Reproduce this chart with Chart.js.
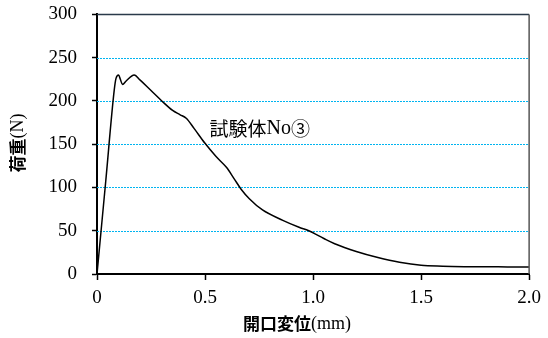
<!DOCTYPE html>
<html><head><meta charset="utf-8">
<script src="https://cdn.jsdelivr.net/npm/chart.js@4/dist/chart.umd.min.js"></script>
<style>html,body{margin:0;padding:0;background:#fff;overflow:hidden}#w{width:548px;height:350px;margin-top:-12px}</style>
</head><body><div id="w"><canvas id="c"></canvas></div>
<script>
const displacement = [0, 0.04, 0.08, 0.088, 0.1, 0.108, 0.118, 0.135, 0.172, 0.2, 0.25, 0.3, 0.35, 0.385, 0.413, 0.45, 0.5, 0.55, 0.6, 0.635, 0.667, 0.705, 0.766, 0.86, 0.935, 0.98, 1.05, 1.1, 1.2, 1.3, 1.4, 1.5, 1.6, 1.7, 1.8, 1.9, 2.0];
const load = [0, 106, 213, 226, 230, 225, 219, 223, 230, 224, 212, 200, 189, 184, 180, 168, 151, 136, 123, 110, 98, 87, 74, 62, 54, 50, 41, 35, 26, 19, 13.5, 10, 9, 8.5, 8.3, 8.2, 8];
const xTicks = [0, 0.5, 1.0, 1.5, 2.0];
const xTickLabels = ['0', '0.5', '1.0', '1.5', '2.0'];
const yTicks = [0, 50, 100, 150, 200, 250, 300];
const seriesLabel = ['試験体', 'No', '③'];
const labelPos = [0.521, 167.8];
const xTitle = ['開口変位', '(mm)'];
const yTitle = ['荷重', '(N)'];

const points = displacement.map((x, i) => ({x, y: load[i]}));
const serif = "'Liberation Serif','Times New Roman',serif";
const gothic = "'Noto Sans CJK JP','Noto Sans CJK SC',sans-serif";
const OFF = 12; // canvas shifted up by this many px

function drawMixed(ctx, parts, x, y, align) {
  let widths = parts.map(p => { ctx.font = p[1]; return ctx.measureText(p[0]).width; });
  let total = widths.reduce((a, b) => a + b, 0);
  let cx = align === 'center' ? x - total / 2 : x;
  ctx.textAlign = 'left';
  ctx.textBaseline = 'middle';
  parts.forEach((p, i) => { ctx.font = p[1]; ctx.fillText(p[0], cx, y); cx += widths[i]; });
}

const deco = {
  id: 'deco',
  beforeDatasetsDraw(chart) {
    const ctx = chart.ctx, a = chart.chartArea, ys = chart.scales.y;
    ctx.save();
    yTicks.forEach(v => {
      if (v === 0) return;
      const py = Math.round(ys.getPixelForValue(v)) + 0.5;
      ctx.beginPath();
      if (v === 300) { ctx.setLineDash([]); ctx.strokeStyle = '#2a3a4a'; ctx.lineWidth = 1.5; }
      else { ctx.setLineDash([2, 1]); ctx.strokeStyle = '#00b4f0'; ctx.lineWidth = 1; }
      ctx.moveTo(a.left, py); ctx.lineTo(a.right, py); ctx.stroke();
    });
    ctx.restore();
  },
  afterDraw(chart) {
    const ctx = chart.ctx, a = chart.chartArea;
    const xs = chart.scales.x, ys = chart.scales.y;
    ctx.save();
    ctx.strokeStyle = '#555';
    ctx.lineWidth = 1.5;
    ctx.beginPath(); ctx.moveTo(a.right, a.top); ctx.lineTo(a.right, a.bottom); ctx.stroke();
    ctx.fillStyle = '#000';
    drawMixed(ctx, [[seriesLabel[0], '19px ' + gothic], [seriesLabel[1], '20px ' + serif], [seriesLabel[2], '19px ' + gothic]],
      xs.getPixelForValue(labelPos[0]), ys.getPixelForValue(labelPos[1]), 'left');
    drawMixed(ctx, [[xTitle[0], 'bold 17px ' + gothic], [xTitle[1], '18px ' + serif]], 297, 324 + OFF, 'center');
    ctx.translate(18, 143 + OFF);
    ctx.rotate(-Math.PI / 2);
    drawMixed(ctx, [[yTitle[0], 'bold 17px ' + gothic], [yTitle[1], '18px ' + serif]], 0, 0, 'center');
    ctx.restore();
  }
};

new Chart(document.getElementById('c'), {
  type: 'scatter',
  data: { datasets: [{
    data: points, showLine: true, borderColor: '#000', borderWidth: 1.5,
    pointRadius: 0, cubicInterpolationMode: 'monotone', fill: false
  }]},
  options: {
    responsive: true, maintainAspectRatio: false, animation: false,
    layout: { padding: { top: 1, right: 17, left: 0, bottom: 0 } },
    plugins: { legend: { display: false }, tooltip: { enabled: false } },
    scales: {
      x: {
        type: 'linear', min: 0, max: 2.0,
        afterBuildTicks: s => { s.ticks = xTicks.map(v => ({value: v})); },
        afterFit: s => { s.height = 64; },
        ticks: { font: { family: serif, size: 19 }, color: '#000', padding: 7, maxRotation: 0,
          callback: (v) => { const i = xTicks.indexOf(v); return i >= 0 ? xTickLabels[i] : ''; } },
        grid: { drawOnChartArea: false, drawTicks: true, tickLength: 6, tickColor: '#000', tickWidth: 1.5 },
        border: { display: true, color: '#000', width: 2 }
      },
      y: {
        type: 'linear', min: 0, max: 300,
        afterBuildTicks: s => { s.ticks = yTicks.map(v => ({value: v})); },
        afterFit: s => { s.width = 97; },
        ticks: { font: { family: serif, size: 19 }, color: '#000', padding: 15 },
        grid: { drawOnChartArea: false, drawTicks: true, tickLength: 5, tickWidth: 1.5, tickColor: '#000' },
        border: { display: true, color: '#000', width: 2 }
      }
    }
  },
  plugins: [deco]
});
</script>
</body></html>
